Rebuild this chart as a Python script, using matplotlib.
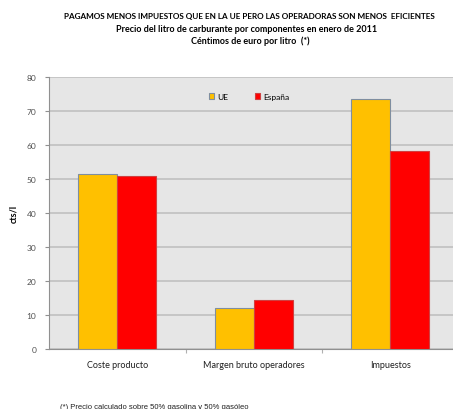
import matplotlib
matplotlib.use("Agg")
import matplotlib.pyplot as plt
import numpy as np

categories = ["Coste producto", "Margen bruto operadores", "Impuestos"]
ue = [51.5, 12.1, 73.4]
espana = [51.0, 14.4, 58.3]
yticks = [0, 10, 20, 30, 40, 50, 60, 70, 80]

plt.rcParams['font.family'] = ['Lato', 'DejaVu Sans']

fig = plt.figure(figsize=(4.53, 4.10), dpi=100)
ax = fig.add_axes([49/453, 60/410, 409.5/453, 272/410])
ax.set_facecolor('#e6e6e6')

x = np.arange(len(categories))
w = 0.2857
ax.bar(x - w/2, ue, width=w, color='#ffc000', edgecolor='#7f8ea0', linewidth=0.8, label='UE', zorder=3)
ax.bar(x + w/2, espana, width=w, color='#ff0000', edgecolor='#d04040', linewidth=0.8, label='España', zorder=3)

ax.set_ylim(0, 80)
ax.set_yticks(yticks)
ax.set_xlim(-0.5, 2.5)
ax.yaxis.grid(True, color='#c0c0c0', linewidth=1.2, zorder=0)
ax.set_axisbelow(True)
ax.tick_params(axis='y', labelsize=6, labelcolor='#505050', length=3, width=0.8, direction='out', pad=6, color='#909090')
ax.set_xticks(x)
ax.set_xticklabels(categories, fontsize=6.5, color='#202020')
ax.tick_params(axis='x', length=0, pad=8)
ax.set_xticks([0.5, 1.5], minor=True)
ax.tick_params(axis='x', which='minor', length=3, color='#b0b0b0', width=0.8)
for s in ['top', 'right']:
    ax.spines[s].set_visible(False)
for s in ['left', 'bottom']:
    ax.spines[s].set_color('#909090')
    ax.spines[s].set_linewidth(0.8)

ax.set_ylabel('cts/l', fontsize=6.5, fontweight='bold', labelpad=6)

leg = ax.legend(loc='upper center', bbox_to_anchor=(0.488, 0.97), ncol=2, frameon=False,
                fontsize=6, handlelength=0.7, handleheight=0.7, columnspacing=3.2, handletextpad=0.3)

fig.text(249/453, 1 - 16/410, 'PAGAMOS MENOS IMPUESTOS QUE EN LA UE PERO LAS OPERADORAS SON MENOS  EFICIENTES',
         ha='center', va='center', fontsize=5.9, fontweight='bold')
fig.text(247/453, 1 - 29/410, 'Precio del litro de carburante por componentes en enero de 2011',
         ha='center', va='center', fontsize=6.5, fontweight='bold')
fig.text(250/453, 1 - 41/410, 'Céntimos de euro por litro  (*)',
         ha='center', va='center', fontsize=6.5, fontweight='bold')
fig.text(60/453, 1 - 408/410, '(*) Precio calculado sobre 50% gasolina y 50% gasóleo',
         ha='left', va='center', fontsize=5.5, family=['Liberation Sans', 'DejaVu Sans'], color='#202020')

fig.savefig('out.png', dpi=100)
